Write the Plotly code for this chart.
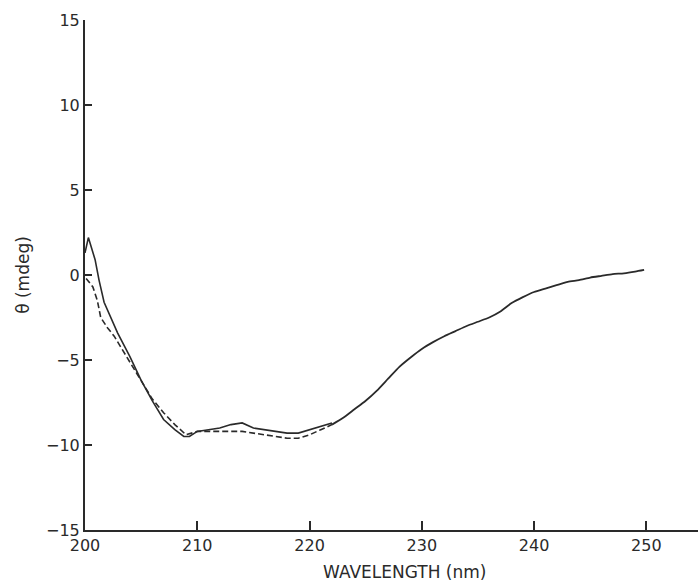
import plotly.graph_objects as go

# Circular dichroism spectra: solid and dashed traces, theta (mdeg) vs wavelength (nm)
wl_solid = [200.0, 200.3, 200.9, 201.25, 201.7, 202.3, 202.9, 204.0, 205.0, 206.0,
            207.0, 208.0, 208.8, 209.3, 210.0, 211.0, 212.0, 213.0, 214.0, 215.0,
            216.0, 217.0, 218.0, 219.0, 220.0, 221.0, 222.0]
theta_solid = [1.3, 2.2, 0.9, -0.3, -1.6, -2.5, -3.4, -4.8, -6.2, -7.4,
               -8.5, -9.1, -9.5, -9.5, -9.2, -9.1, -9.0, -8.8, -8.7, -9.0,
               -9.1, -9.2, -9.3, -9.3, -9.1, -8.9, -8.7]

wl_dashed = [200.1, 200.7, 201.1, 201.4, 202.0, 202.6, 203.7, 205.0, 206.0, 207.0,
             208.0, 209.0, 209.5, 210.0, 212.0, 214.0, 216.0, 218.0, 219.0, 220.0,
             221.0, 222.0]
theta_dashed = [-0.2, -0.7, -1.5, -2.5, -3.1, -3.6, -4.8, -6.2, -7.3, -8.1,
                -8.8, -9.4, -9.3, -9.2, -9.2, -9.2, -9.4, -9.6, -9.6, -9.4,
                -9.1, -8.8]

# Common tail where both traces coincide
wl_tail = [222.0, 223.0, 224.0, 225.0, 226.0, 227.0, 228.0, 229.0, 230.0, 231.0,
           232.0, 233.0, 234.0, 235.0, 236.0, 237.0, 238.0, 239.0, 240.0, 241.0,
           242.0, 243.0, 244.0, 245.0, 246.0, 247.0, 248.0, 249.0, 249.8]
theta_tail = [-8.8, -8.4, -7.9, -7.4, -6.8, -6.1, -5.4, -4.85, -4.35, -3.95,
              -3.6, -3.3, -3.0, -2.75, -2.5, -2.15, -1.65, -1.3, -1.0, -0.8,
              -0.6, -0.4, -0.3, -0.15, -0.05, 0.05, 0.1, 0.2, 0.3]

x_ticks = [200, 210, 220, 230, 240, 250]
y_ticks = [-15, -10, -5, 0, 5, 10, 15]

ink = "#2a2a2a"
font_family = "DejaVu Sans"

fig = go.Figure()
fig.add_trace(go.Scatter(x=wl_dashed, y=theta_dashed, mode="lines",
                         line=dict(color=ink, width=1.6, dash="6px,3px"),
                         showlegend=False))
fig.add_trace(go.Scatter(x=wl_solid, y=theta_solid, mode="lines",
                         line=dict(color=ink, width=1.6),
                         showlegend=False))
fig.add_trace(go.Scatter(x=wl_tail, y=theta_tail, mode="lines",
                         line=dict(color=ink, width=1.8, shape="spline", smoothing=0.6),
                         showlegend=False))

fig.update_layout(
    width=698, height=584,
    margin=dict(l=85, r=0, t=20, b=54),
    paper_bgcolor="white", plot_bgcolor="white",
    font=dict(family=font_family, size=16, color=ink),
    xaxis=dict(range=[200, 254.6], tickvals=x_ticks, ticks="inside", ticklen=9,
               tickwidth=1.6, tickcolor=ink, showline=True, linecolor=ink,
               linewidth=2, showgrid=False, zeroline=False,
               tickfont=dict(size=16)),
    yaxis=dict(range=[-15, 15], tickvals=y_ticks, ticks="inside", ticklen=7,
               tickwidth=1.6, tickcolor=ink, showline=True, linecolor=ink,
               linewidth=2, showgrid=False, zeroline=False,
               tickfont=dict(size=16),
               title=dict(text="θ (mdeg)", font=dict(size=17), standoff=12)),
)

fig.add_annotation(text="WAVELENGTH (nm)", xref="paper", yref="paper",
                   x=(404 - 85) / 613, y=-0.082, showarrow=False,
                   xanchor="center", yanchor="middle",
                   font=dict(size=17, family=font_family, color=ink))

fig.write_html("out.html")
